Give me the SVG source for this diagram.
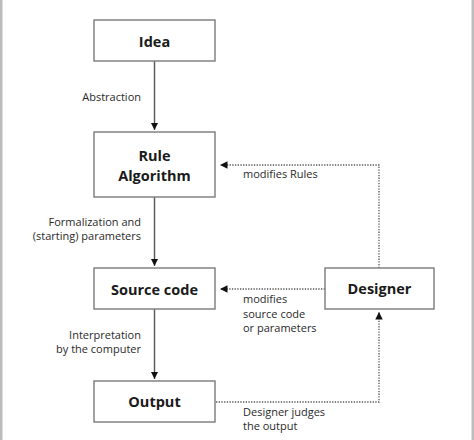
<svg xmlns="http://www.w3.org/2000/svg" width="474" height="440" viewBox="0 0 474 440">
<style>
.box{fill:#fff;stroke:#7a7a7a;stroke-width:1.4}
.nt{font-family:"Open Sans","Liberation Sans",sans-serif;font-weight:bold;font-size:14.5px;fill:#1a1a1a;text-anchor:middle}
.lb{font-family:"Open Sans","Liberation Sans",sans-serif;font-size:11px;fill:#2a2a2a}
.r{text-anchor:end}
.solid{fill:none;stroke:#555;stroke-width:1.4}
.dot{fill:none;stroke:#555;stroke-width:1.3;stroke-dasharray:1.3 1.4}
</style>
<defs>
<marker id="ah" viewBox="0 0 8 8" refX="8" refY="4" markerWidth="7.5" markerHeight="7.5" markerUnits="userSpaceOnUse" orient="auto">
<path d="M0,0 L8,4 L0,8 z" fill="#111"/>
</marker>
</defs>
<rect width="474" height="440" fill="#fff"/>
<rect x="0" y="0" width="2.5" height="440" fill="#bdbdbd"/>
<rect x="471.5" y="0" width="2.5" height="440" fill="#bdbdbd"/>
<g id="connectors">
<line class="solid" x1="154.5" y1="61" x2="154.5" y2="130" marker-end="url(#ah)"/>
<line class="solid" x1="154.5" y1="197" x2="154.5" y2="266" marker-end="url(#ah)"/>
<line class="solid" x1="154.5" y1="309" x2="154.5" y2="379" marker-end="url(#ah)"/>
<polyline class="dot" points="379,268 379,165 220,165" marker-end="url(#ah)"/>
<line class="dot" x1="325" y1="289" x2="220" y2="289" marker-end="url(#ah)"/>
<polyline class="dot" points="216,402 379,402 379,312" marker-end="url(#ah)"/>
<text class="lb r" x="141" y="100.5">Abstraction</text>
<text class="lb" x="243" y="178">modifies Rules</text>
<text class="lb r" x="141" y="226">Formalization and</text>
<text class="lb r" x="141" y="240">(starting) parameters</text>
<text class="lb" x="243" y="303">modifies</text>
<text class="lb" x="243" y="317.5">source code</text>
<text class="lb" x="243" y="332">or parameters</text>
<text class="lb r" x="141" y="338.5">Interpretation</text>
<text class="lb r" x="141" y="352.5">by the computer</text>
<text class="lb" x="243" y="416">Designer judges</text>
<text class="lb" x="243" y="430">the output</text>
</g>
<g id="idea">
<rect class="box" x="94" y="20" width="121" height="41"/>
<text class="nt" x="154.5" y="47">Idea</text>
</g>
<g id="rule">
<rect class="box" x="94" y="132" width="121" height="65"/>
<text class="nt" x="154.5" y="160.5">Rule</text>
<text class="nt" x="154.5" y="180.5">Algorithm</text>
</g>
<g id="source">
<rect class="box" x="94" y="268" width="121" height="41"/>
<text class="nt" x="154.5" y="294.5">Source code</text>
</g>
<g id="designer">
<rect class="box" x="325" y="268" width="109" height="41"/>
<text class="nt" x="379.5" y="294">Designer</text>
</g>
<g id="output">
<rect class="box" x="94" y="381" width="121" height="41"/>
<text class="nt" x="154.5" y="407">Output</text>
</g>
</svg>
